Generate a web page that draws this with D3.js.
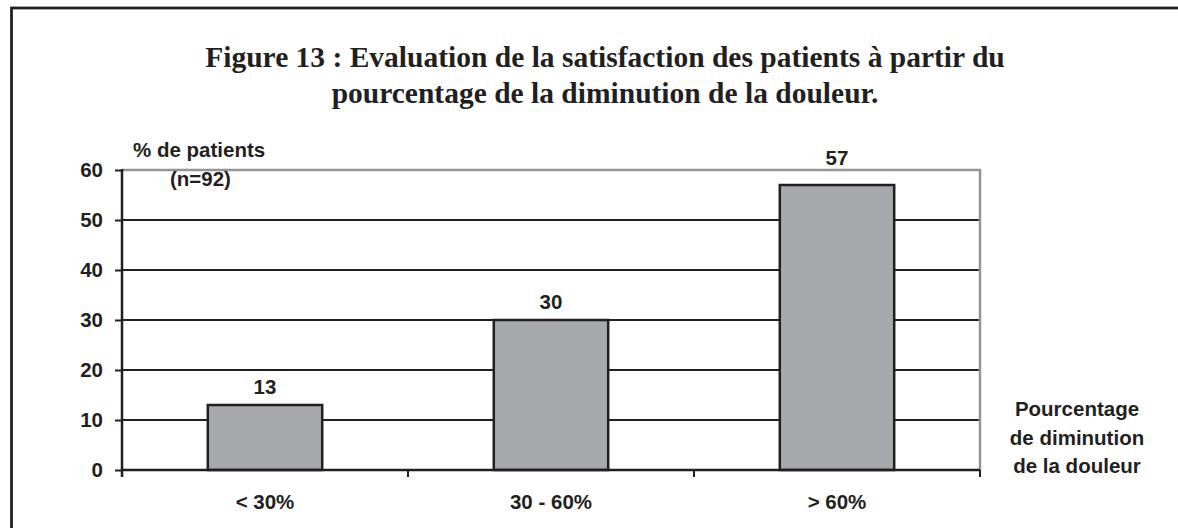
<!DOCTYPE html>
<html>
<head>
<meta charset="utf-8">
<script src="https://cdn.jsdelivr.net/npm/d3@7"></script>
<style>
  body { margin: 0; background: #fff; }
  text { fill: #231f20; }
</style>
</head>
<body>
<svg id="chart"></svg>
<script>
// data
const categories = ["< 30%", "30 - 60%", "> 60%"];
const values = [13, 30, 57];
const yTicks = [0, 10, 20, 30, 40, 50, 60];
const titleLines = [
    "Figure 13 : Evaluation de la satisfaction des patients à partir du",
    "pourcentage de la diminution de la douleur."
];
const yLabelLines = ["% de patients", "(n=92)"];
const xLabelLines = ["Pourcentage", "de diminution", "de la douleur"];

var W = 1178, H = 528;
var plot = { left: 122, right: 980, top: 170, bottom: 470 };
var ink = "#231f20";
var sans = "'Liberation Sans', Arial, sans-serif";
var fs = 20.5;

const svg = d3.select("#chart")
    .attr("width", W)
    .attr("height", H);

// outer frame (right and bottom edges run off the page)
svg.append("rect")
    .attr("x", 11.5).attr("y", 8)
    .attr("width", 1300).attr("height", 700)
    .attr("fill", "none")
    .attr("stroke", ink)
    .attr("stroke-width", 2.8);

// title
svg.append("g")
    .selectAll("text")
    .data(titleLines)
    .join("text")
    .attr("x", 605)
    .attr("y", (d, i) => 67 + i * 36)
    .attr("text-anchor", "middle")
    .attr("font-family", "'Liberation Serif', 'Times New Roman', serif")
    .attr("font-weight", "bold")
    .attr("font-size", 29.5)
    .text(d => d);

// scales
const x = d3.scaleBand()
    .domain(categories)
    .range([plot.left, plot.right])
    .paddingInner(0.6)
    .paddingOuter(0.3);

const y = d3.scaleLinear()
    .domain([0, 60])
    .range([plot.bottom, plot.top]);

// horizontal gridlines (top one is the grey plot border)
svg.append("g")
    .selectAll("line")
    .data(yTicks.filter(d => d > 0 && d < 60))
    .join("line")
    .attr("x1", plot.left).attr("x2", plot.right)
    .attr("y1", d => y(d)).attr("y2", d => y(d))
    .attr("stroke", ink)
    .attr("stroke-width", 2);

// grey plot border top + right
svg.append("path")
    .attr("d", `M${plot.left},${y(60)}H${plot.right}V${y(0)}`)
    .attr("fill", "none")
    .attr("stroke", "#939598")
    .attr("stroke-width", 2.5);

// bars
svg.append("g")
    .selectAll("rect")
    .data(values)
    .join("rect")
    .attr("x", (d, i) => x(categories[i]))
    .attr("y", d => y(d))
    .attr("width", x.bandwidth())
    .attr("height", d => y(0) - y(d))
    .attr("fill", "#a7a9ac")
    .attr("stroke", ink)
    .attr("stroke-width", 2.5);

// value labels - pushed above the plot border when the bar gets close to it
function labelY(d) {
    const ly = y(d) - 11;
    return ly < y(60) + 16 ? y(60) - 5 : ly;
}
svg.append("g")
    .selectAll("text")
    .data(values)
    .join("text")
    .attr("x", (d, i) => x(categories[i]) + x.bandwidth() / 2)
    .attr("y", labelY)
    .attr("text-anchor", "middle")
    .attr("font-family", sans)
    .attr("font-weight", "bold")
    .attr("font-size", fs)
    .text(d => d);

// y axis
const yAxis = svg.append("g")
    .attr("transform", `translate(${plot.left},0)`)
    .call(d3.axisLeft(y).tickValues(yTicks).tickSize(7).tickPadding(12).tickSizeOuter(0));
yAxis.select(".domain").remove();
yAxis.selectAll(".tick line").attr("stroke", ink).attr("stroke-width", 2);
yAxis.selectAll(".tick text")
    .attr("fill", ink)
    .attr("font-family", sans)
    .attr("font-weight", "bold")
    .attr("font-size", fs);
yAxis.append("line")
    .attr("x1", 0).attr("x2", 0)
    .attr("y1", y(60) - 1).attr("y2", y(0) + 7)
    .attr("stroke", ink)
    .attr("stroke-width", 2.5);

// x axis: baseline, ticks between categories, labels centred
svg.append("line")
    .attr("x1", plot.left).attr("x2", plot.right)
    .attr("y1", y(0)).attr("y2", y(0))
    .attr("stroke", ink)
    .attr("stroke-width", 2.5);

const step = x.step();
const boundaries = d3.range(categories.length + 1).map(i => plot.left + i * step);
svg.append("g")
    .selectAll("line")
    .data(boundaries.slice(1))
    .join("line")
    .attr("x1", d => d).attr("x2", d => d)
    .attr("y1", y(0)).attr("y2", y(0) + 7)
    .attr("stroke", ink)
    .attr("stroke-width", 2);

svg.append("g")
    .selectAll("text")
    .data(categories)
    .join("text")
    .attr("x", d => x(d) + x.bandwidth() / 2)
    .attr("y", 509)
    .attr("text-anchor", "middle")
    .attr("font-family", sans)
    .attr("font-weight", "bold")
    .attr("font-size", fs)
    .text(d => d);

// axis titles
svg.append("g")
    .selectAll("text")
    .data(yLabelLines)
    .join("text")
    .attr("x", (d, i) => i === 0 ? 133 : 170)
    .attr("y", (d, i) => 157 + i * 29)
    .attr("font-family", sans)
    .attr("font-weight", "bold")
    .attr("font-size", fs)
    .text(d => d);

svg.append("g")
    .selectAll("text")
    .data(xLabelLines)
    .join("text")
    .attr("x", 1077)
    .attr("y", (d, i) => 416 + i * 28.5)
    .attr("text-anchor", "middle")
    .attr("font-family", sans)
    .attr("font-weight", "bold")
    .attr("font-size", fs)
    .text(d => d);
</script>
</body>
</html>
